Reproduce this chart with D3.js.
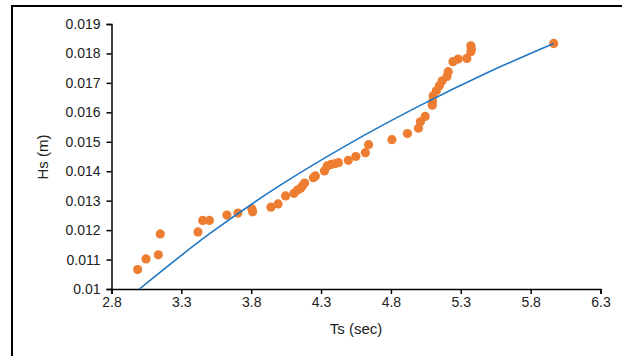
<!DOCTYPE html>
<html>
<head>
<meta charset="utf-8">
<script src="https://cdn.jsdelivr.net/npm/d3@7"></script>
<style>
body { margin: 0; background: #fff; }
svg text { font-family: 'Liberation Sans', Arial, sans-serif; fill: #222; }
</style>
</head>
<body>
<div id="viz"></div>
<script>
var w = 622,
	h = 356;

// measured points: Ts (sec), Hs (m)
var ts = [2.987, 3.047, 3.135, 3.149, 3.419, 3.453, 3.501, 3.626, 3.705, 3.805, 3.81,
	3.941, 3.992, 4.046, 4.106, 4.131, 4.154, 4.165, 4.182, 4.245, 4.259, 4.324,
	4.344, 4.372, 4.401, 4.424, 4.495, 4.549, 4.617, 4.640, 4.807, 4.918, 4.997,
	5.011, 5.045, 5.096, 5.098, 5.102, 5.125, 5.147, 5.167, 5.201, 5.210, 5.244,
	5.281, 5.343, 5.372, 5.376, 5.372, 5.965];
var hs = [0.01066, 0.01102, 0.01116, 0.01187, 0.01194, 0.01233, 0.01233, 0.01251, 0.01258, 0.01272, 0.01262,
	0.01278, 0.01289, 0.01316, 0.01325, 0.01336, 0.01342, 0.0135, 0.0136, 0.01378, 0.01384, 0.01401,
	0.01418, 0.01423, 0.01426, 0.01429, 0.01437, 0.0145, 0.01463, 0.0149, 0.01507, 0.01528, 0.01546,
	0.01568, 0.01586, 0.01624, 0.01636, 0.01656, 0.01673, 0.0169, 0.01707, 0.01722, 0.01738, 0.01772,
	0.01781, 0.01783, 0.01806, 0.01815, 0.01826, 0.01834];

// trend line
var trend_ts = [3.0, 3.5, 4.0, 4.5, 5.0, 5.5, 5.965];
var trend_hs = [0.0100, 0.01187, 0.01350, 0.01493, 0.01621, 0.01737, 0.01834];

var x_ticks = [2.8, 3.3, 3.8, 4.3, 4.8, 5.3, 5.8, 6.3];
var y_ticks = [0.01, 0.011, 0.012, 0.013, 0.014, 0.015, 0.016, 0.017, 0.018, 0.019];

var plot_left = 111.5,
	plot_right = 600.5,
	plot_top = 24,
	plot_bottom = 289;

var svg = d3.select('#viz').append('svg')
	.attr('width', w)
	.attr('height', h);

// outer frame
svg.append('rect')
	.attr('x', 12)
	.attr('y', 6)
	.attr('width', 640)
	.attr('height', 400)
	.attr('fill', 'none')
	.attr('stroke', '#000')
	.attr('stroke-width', 2);

var x = d3.scaleLinear().domain([2.8, 6.3]).range([plot_left, plot_right]);
var y = d3.scaleLinear().domain([0.01, 0.019]).range([plot_bottom, plot_top]);

var xAxis = svg.append('g')
	.attr('transform', 'translate(0,' + plot_bottom + ')')
	.call(d3.axisBottom(x).tickValues(x_ticks).tickSize(5).tickPadding(3)
		.tickFormat(function(d){ return d3.format('.1f')(d); }));
var yAxis = svg.append('g')
	.attr('transform', 'translate(' + plot_left + ',0)')
	.call(d3.axisLeft(y).tickValues(y_ticks).tickSize(5).tickPadding(6)
		.tickFormat(function(d){ return d === 0.01 ? '0.01' : d3.format('.3f')(d); }));

[xAxis, yAxis].forEach(function(a){
	a.select('.domain').attr('stroke', '#000').attr('stroke-width', 1.5);
	a.selectAll('.tick line').attr('stroke', '#000').attr('stroke-width', 1.5);
	a.selectAll('.tick text')
		.attr('fill', '#222')
		.style('font-family', "'Liberation Sans', Arial, sans-serif")
		.style('font-size', '14px');
});

// dots
svg.selectAll('.dot')
	.data(ts)
	.enter().append('circle')
		.attr('class', 'dot')
		.attr('cx', function(d){ return x(d); })
		.attr('cy', function(d, i){ return y(hs[i]); })
		.attr('r', 4.6)
		.attr('fill', '#ED7D31');

// trend line
var line = d3.line()
	.x(function(d){ return x(d); })
	.y(function(d, i){ return y(trend_hs[i]); })
	.curve(d3.curveMonotoneX);

svg.append('path')
	.datum(trend_ts)
	.attr('d', line)
	.attr('fill', 'none')
	.attr('stroke', '#1F77C4')
	.attr('stroke-width', 1.6);

// axis titles
svg.append('text')
	.attr('x', (plot_left + plot_right) / 2)
	.attr('y', 334)
	.style('text-anchor', 'middle')
	.style('font-size', '15px')
	.text('Ts (sec)');

svg.append('text')
	.attr('transform', 'translate(' + 43 + ',' + 157 + ') rotate(-90)')
	.attr('dy', '0.35em')
	.style('text-anchor', 'middle')
	.style('font-size', '15px')
	.text('Hs (m)');
</script>
</body>
</html>
